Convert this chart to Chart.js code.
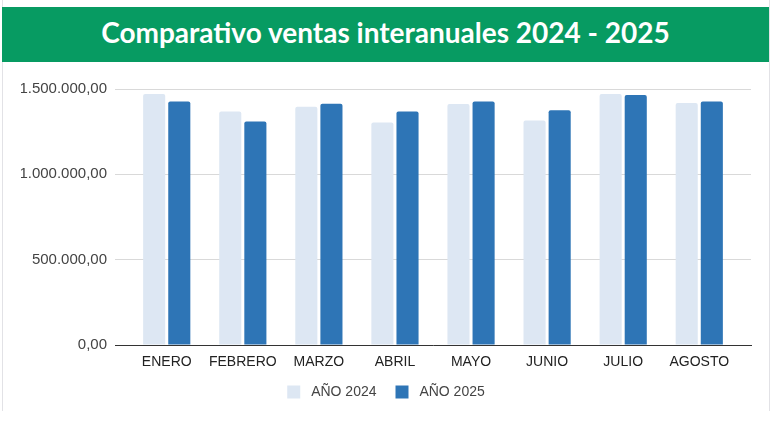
<!DOCTYPE html>
<html lang="es">
<head>
<meta charset="utf-8">
<script src="https://cdn.jsdelivr.net/npm/chart.js@4"></script>
<style>
  html, body { margin: 0; padding: 0; background: #ffffff; }
  body { width: 780px; height: 421px; position: relative; overflow: hidden; }
  #card {
    position: absolute; left: 2px; top: 0; width: 766px; height: 411px;
    border-left: 1px solid #e2e2e6; border-right: 1px solid #e2e2e6;
  }
  #banner {
    position: absolute; left: 2px; top: 7px; width: 767px; height: 55px;
    background: #079b62; color: #ffffff;
    font-family: Lato, "Open Sans", sans-serif; font-weight: 700; font-size: 28px;
    display: flex; align-items: center; justify-content: center;
    padding-bottom: 5px; box-sizing: border-box;
  }
  #wrap { position: absolute; left: 0; top: 0; width: 780px; height: 421px; }
</style>
</head>
<body>
<div id="card"></div>
<div id="banner">Comparativo ventas interanuales 2024 - 2025</div>
<div id="wrap"><canvas id="ventas"></canvas></div>

<script>
// ------------------------------------------------------
// Datos
// ------------------------------------------------------

const meses = ["ENERO", "FEBRERO", "MARZO", "ABRIL", "MAYO", "JUNIO", "JULIO", "AGOSTO"];

const ventas2024 = [1470000, 1368000, 1396000, 1304000, 1412000, 1316000, 1470000, 1418000];

const ventas2025 = [1427000, 1310000, 1414000, 1368000, 1427000, 1376000, 1465000, 1427000];

const ticksY = [0, 500000, 1000000, 1500000];

// formato 1.500.000,00
function formatoES(v) {
    let entero = Math.round(v).toString().replace(/\B(?=(\d{3})+(?!\d))/g, ".");
    return entero + ",00";
}

// ------------------------------------------------------
// Gráfico
// ------------------------------------------------------

new Chart(document.getElementById("ventas"), {

    type: "bar",

    data: {
        labels: meses,
        datasets: [
            {
                label: " AÑO 2024",
                data: ventas2024,
                backgroundColor: "#dde7f3",
                borderRadius: 2,
                borderSkipped: "bottom"
            },
            {
                label: " AÑO 2025",
                data: ventas2025,
                backgroundColor: "#2e75b6",
                borderRadius: 2,
                borderSkipped: "bottom"
            }
        ]
    },

    options: {
        responsive: true,
        maintainAspectRatio: false,
        animation: false,
        categoryPercentage: 0.66,
        barPercentage: 0.88,
        layout: {
            padding: { left: 21, right: 29, top: 89, bottom: 12 }
        },
        plugins: {
            legend: {
                position: "bottom",
                labels: {
                    boxWidth: 13,
                    boxHeight: 13,
                    padding: 19,
                    color: "#444444",
                    font: { family: "'Liberation Sans', Arial, sans-serif", size: 14 }
                }
            },
            tooltip: { enabled: false }
        },
        scales: {
            x: {
                grid: { display: false, drawTicks: false },
                border: { display: true, color: "#333333", width: 1 },
                ticks: {
                    padding: 9,
                    color: "#222222",
                    font: { family: "'Liberation Sans', Arial, sans-serif", size: 14 }
                },
                afterBuildTicks: s => {
                    s._startValue -= 0.18;
                    s._valueRange += 0.36;
                },
                afterFit: s => { s.height = 21; }
            },
            y: {
                min: 0,
                max: 1500000,
                afterBuildTicks: s => {
                    s.ticks = ticksY.map(v => ({ value: v }));
                },
                grid: { color: "#d9d9d9", drawTicks: false },
                border: { display: false },
                ticks: {
                    padding: 8,
                    color: "#444444",
                    font: { family: "'Liberation Sans', Arial, sans-serif", size: 15 },
                    callback: v => formatoES(v)
                },
                afterFit: s => { s.width = 94; }
            }
        }
    }

});
</script>
</body>
</html>
